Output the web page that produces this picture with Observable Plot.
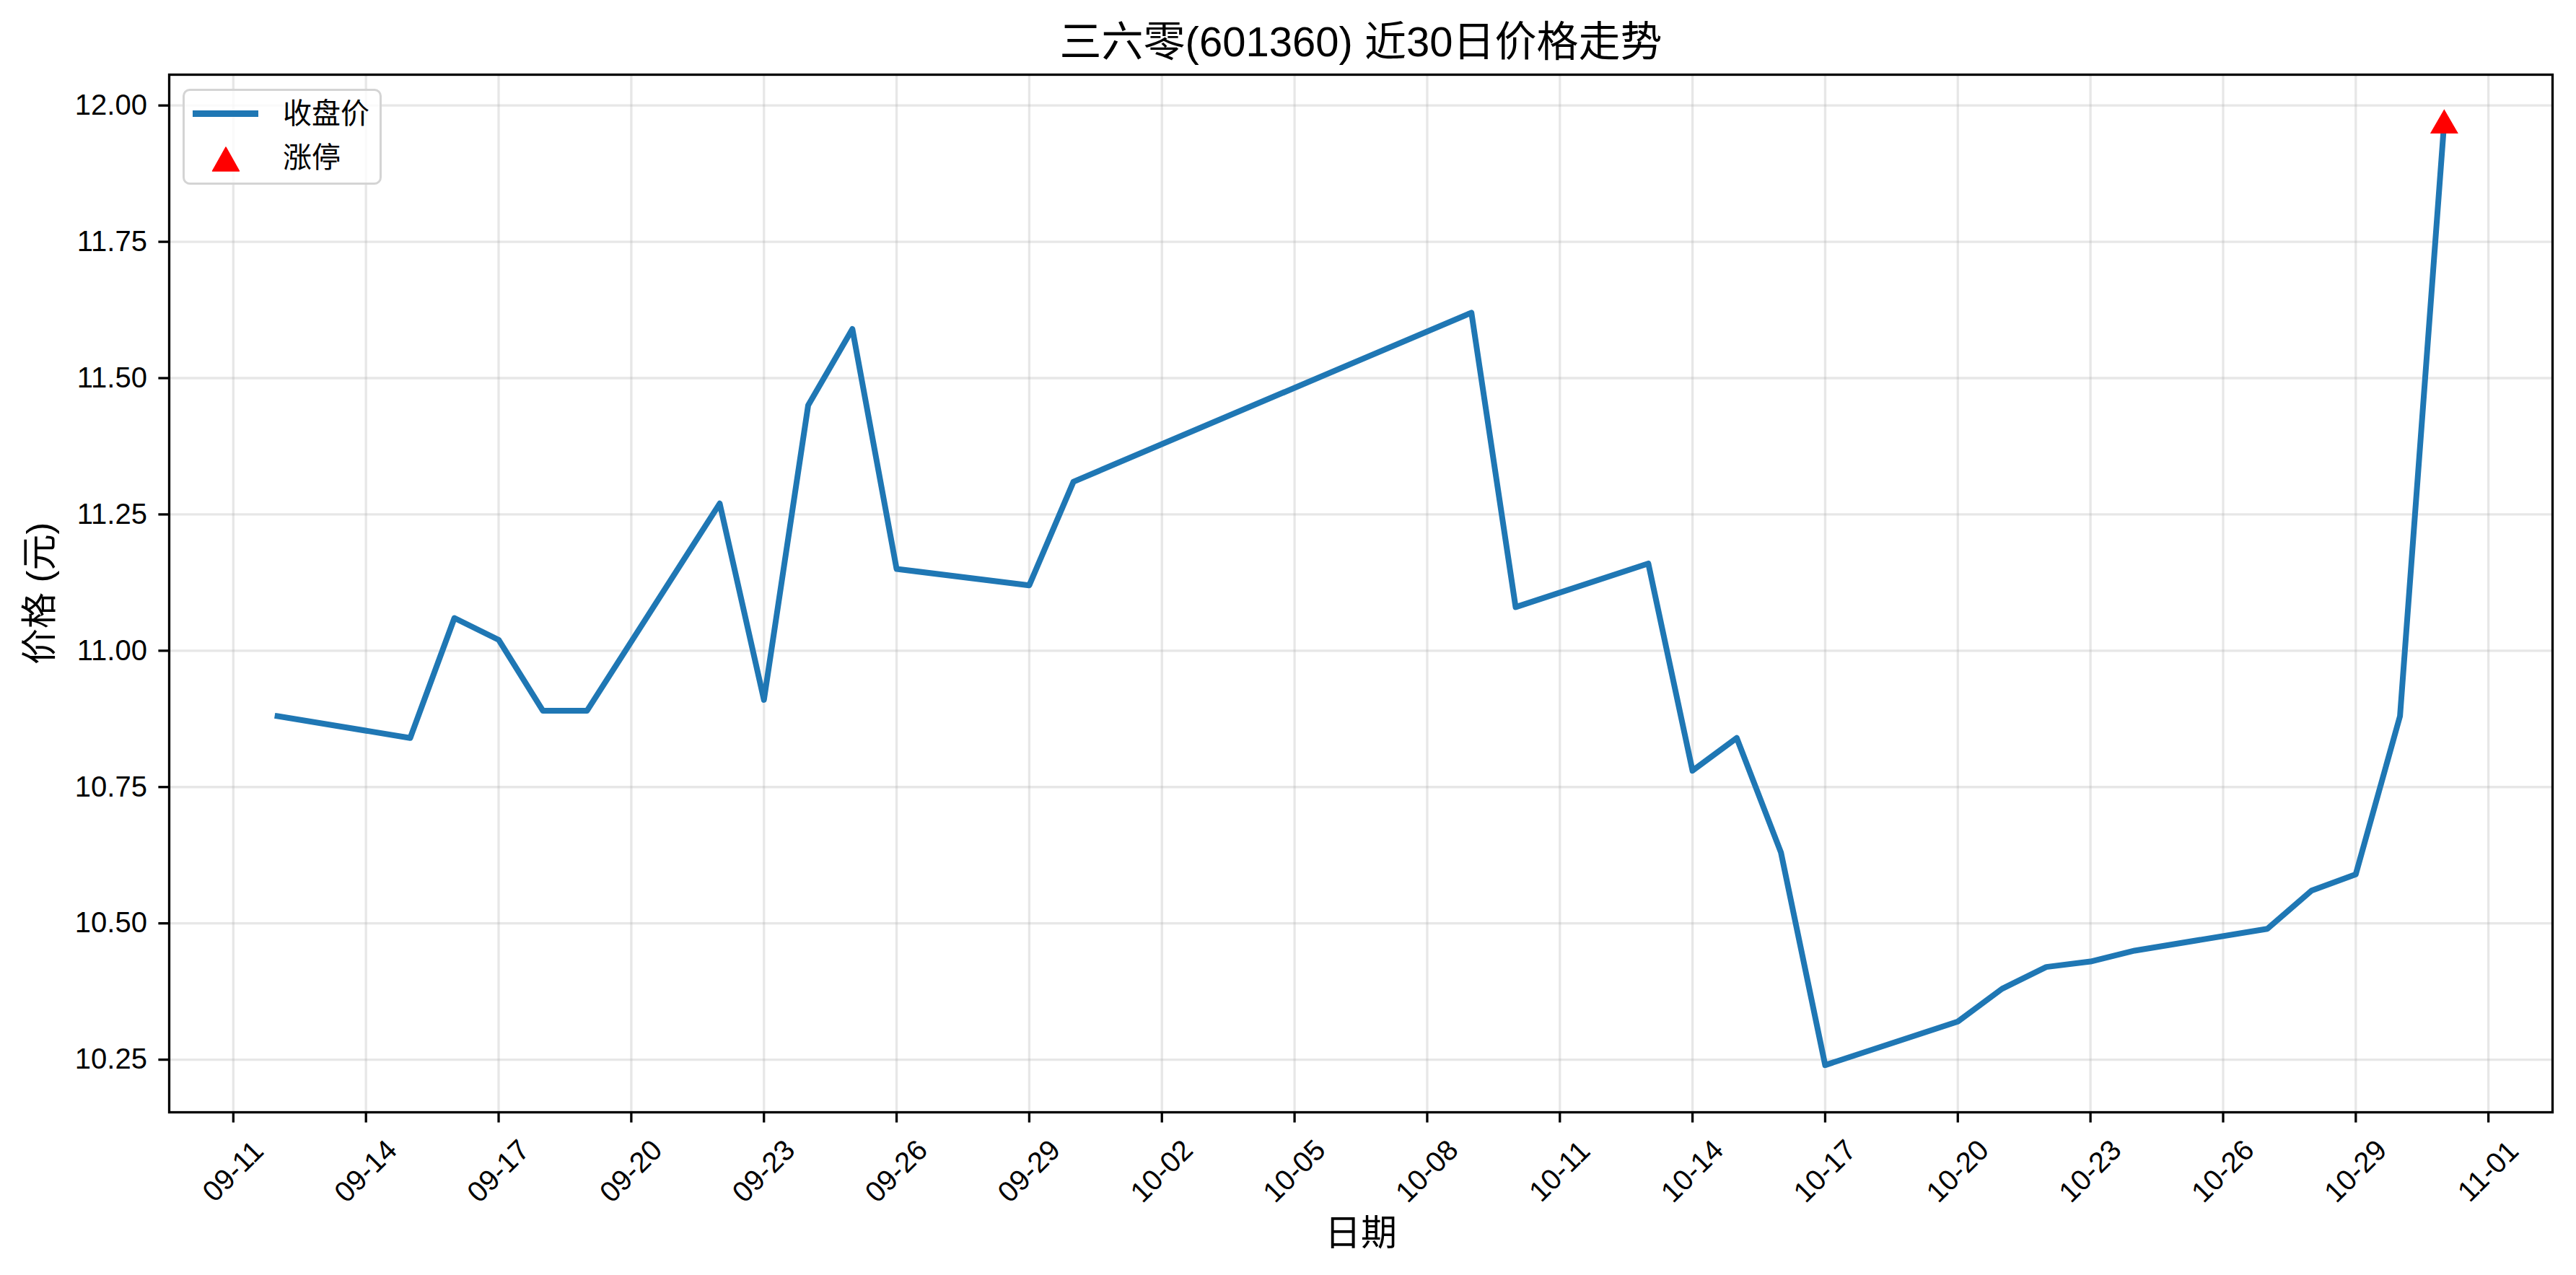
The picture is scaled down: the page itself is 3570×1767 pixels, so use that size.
<!DOCTYPE html>
<html>
<head>
<meta charset="utf-8">
<script src="https://cdn.jsdelivr.net/npm/d3@7"></script>
<script src="https://cdn.jsdelivr.net/npm/@observablehq/plot@0.6"></script>
<style>
  html, body { margin: 0; padding: 0; background: white; }
  #wrap { position: relative; width: 3570px; height: 1767px; font-family: "Liberation Sans", "Noto Sans CJK SC", sans-serif; color: black; }
  .lg { position: absolute; font-size: 40px; line-height: 40px; height: 40px; white-space: nowrap; }
</style>
</head>
<body>
<div id="wrap"></div>
<script>
// ---- data ----
const dates = [
  "2025-09-12", "2025-09-15", "2025-09-16", "2025-09-17", "2025-09-18", "2025-09-19",
  "2025-09-22", "2025-09-23", "2025-09-24", "2025-09-25", "2025-09-26",
  "2025-09-29", "2025-09-30",
  "2025-10-09", "2025-10-10",
  "2025-10-13", "2025-10-14", "2025-10-15", "2025-10-16", "2025-10-17",
  "2025-10-20", "2025-10-21", "2025-10-22", "2025-10-23", "2025-10-24",
  "2025-10-27", "2025-10-28", "2025-10-29", "2025-10-30", "2025-10-31"
];
const closes = [
  10.88, 10.84, 11.06, 11.02, 10.89, 10.89,
  11.27, 10.91, 11.45, 11.59, 11.15,
  11.12, 11.31,
  11.62, 11.08,
  11.16, 10.78, 10.84, 10.63, 10.24,
  10.32, 10.38, 10.42, 10.43, 10.45,
  10.49, 10.56, 10.59, 10.88, 11.97
];
const limitUpDates = ["2025-10-31"];
const limitUpPrices = [11.97];
const xTickLabels = ["09-11", "09-14", "09-17", "09-20", "09-23", "09-26", "09-29",
  "10-02", "10-05", "10-08", "10-11", "10-14", "10-17", "10-20", "10-23", "10-26", "10-29", "11-01"];
const yTicks = [10.25, 10.50, 10.75, 11.00, 11.25, 11.50, 11.75, 12.00];
const year = 2025;
const titleText = "三六零(601360) 近30日价格走势";
const xLabel = "日期";
const yLabel = "价格 (元)";
const legendLine = "收盘价";
const legendMarker = "涨停";

// ---- build ----
const parse = s => new Date(s + "T00:00:00Z");
const data = dates.map((d, i) => ({date: parse(d), close: closes[i]}));
const limits = limitUpDates.map((d, i) => ({date: parse(d), close: limitUpPrices[i]}));
const xTicks = xTickLabels.map(s => parse(`${year}-${s}`));
const fmtTick = d3.utcFormat("%m-%d");

const [x0, x1] = d3.extent(data, d => +d.date);
const [y0, y1] = d3.extent(data, d => d.close);
const xm = (x1 - x0) * 0.05, ym = (y1 - y0) * 0.05;

const W = 3570, H = 1767;
const mL = 234, mR = 33, mT = 103, mB = 226;

const chart = Plot.plot({
  width: W, height: H,
  marginLeft: mL, marginRight: mR, marginTop: mT, marginBottom: mB,
  style: {fontFamily: '"Liberation Sans", "Noto Sans CJK SC", sans-serif', fontSize: "40px", color: "black", background: "white", overflow: "visible"},
  x: {type: "utc", domain: [new Date(x0 - xm), new Date(x1 + xm)]},
  y: {domain: [y0 - ym, y1 + ym]},
  marks: [
    Plot.gridX(xTicks, {stroke: "#b0b0b0", strokeOpacity: 0.3, strokeWidth: 3.3}),
    Plot.gridY(yTicks, {stroke: "#b0b0b0", strokeOpacity: 0.3, strokeWidth: 3.3}),
    Plot.line(data, {x: "date", y: "close", stroke: "#1f77b4", strokeWidth: 8, strokeLinejoin: "round", strokeLinecap: "square"}),
    Plot.dot(limits, {x: "date", y: "close", symbol: "triangle", r: 13.5, fill: "red", stroke: "red", strokeWidth: 1.5, dy: 5}),
    Plot.frame({stroke: "black", strokeWidth: 3.3}),
    Plot.axisY(yTicks, {anchor: "left", tickSize: 14.6, tickPadding: 16, tickFormat: d3.format(".2f"), strokeWidth: 3.3, fontSize: 40, label: null}),
    Plot.axisX(xTicks, {anchor: "bottom", tickSize: 14.6, tickFormat: () => "", strokeWidth: 3.3, label: null}),
    Plot.text(xTicks, {x: d => d, text: d => fmtTick(d), frameAnchor: "bottom", dy: 82, rotate: -45, textAnchor: "middle", lineAnchor: "middle", fontSize: 40, fill: "black"}),
    Plot.text([xLabel], {frameAnchor: "bottom", dy: 168, textAnchor: "middle", lineAnchor: "middle", fontSize: 50, fill: "black"}),
    Plot.text([yLabel], {frameAnchor: "left", dx: -179, rotate: -90, textAnchor: "middle", lineAnchor: "middle", fontSize: 50, fill: "black"}),
    Plot.text([titleText], {frameAnchor: "top", dy: -44, textAnchor: "middle", lineAnchor: "middle", fontSize: 58, fill: "black"})
  ]
});

const wrap = document.getElementById("wrap");
wrap.appendChild(chart);

// ---- legend (HTML overlay) ----
const legend = document.createElement("div");
legend.style.cssText = "position:absolute;left:253px;top:123px;width:270px;height:127px;border:3px solid #d4d4d4;border-radius:10px;background:rgba(255,255,255,0.8);";
wrap.appendChild(legend);

const sample = document.createElement("div");
sample.style.cssText = "position:absolute;left:267px;top:153px;width:91px;height:9px;background:#1f77b4;";
wrap.appendChild(sample);

const tri = document.createElementNS("http://www.w3.org/2000/svg", "svg");
tri.setAttribute("width", "40"); tri.setAttribute("height", "36");
tri.style.cssText = "position:absolute;left:293px;top:202px;";
const poly = document.createElementNS("http://www.w3.org/2000/svg", "polygon");
poly.setAttribute("points", "20,2 1.5,35 38.5,35");
poly.setAttribute("fill", "red");
poly.setAttribute("stroke", "red");
poly.setAttribute("stroke-linejoin", "round");
poly.setAttribute("stroke-width", "1.5");
tri.appendChild(poly);
wrap.appendChild(tri);

const t1 = document.createElement("div");
t1.className = "lg"; t1.textContent = legendLine;
t1.style.left = "392px"; t1.style.top = "137px";
wrap.appendChild(t1);

const t2 = document.createElement("div");
t2.className = "lg"; t2.textContent = legendMarker;
t2.style.left = "392px"; t2.style.top = "198px";
wrap.appendChild(t2);
</script>
</body>
</html>
